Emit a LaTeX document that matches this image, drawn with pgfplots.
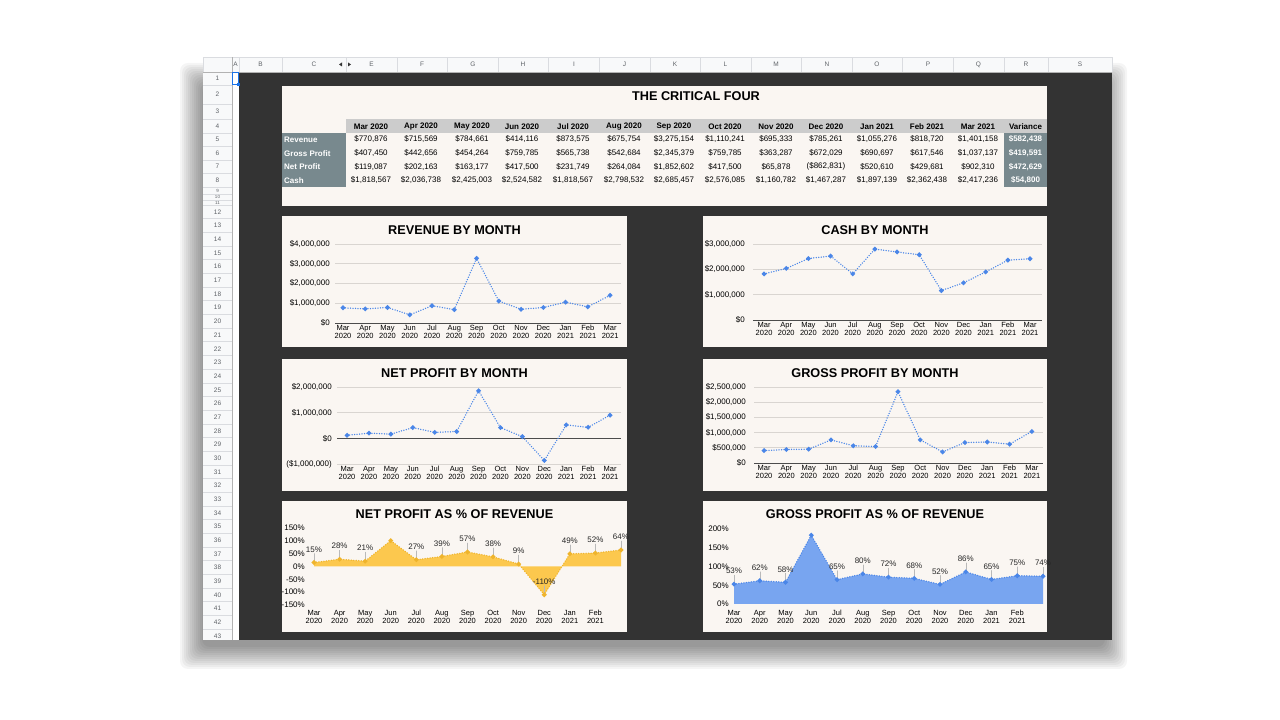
\documentclass[border=0pt]{standalone}
\usepackage{pgfplots}
\pgfplotsset{compat=1.18}
\usepackage{pgfplotstable}
\usepackage{fontspec}
\setmainfont{Liberation Sans}

\definecolor{sheetdark}{HTML}{333333}
\definecolor{cream}{HTML}{FAF6F2}
\definecolor{hdrgray}{HTML}{CCCCCC}
\definecolor{slate}{HTML}{78898E}
\definecolor{gridc}{HTML}{D9D5D1}
\definecolor{gblue}{HTML}{4A86E8}
\definecolor{yfill}{HTML}{FCC84E}
\definecolor{yline}{HTML}{EFB42C}
\definecolor{bfill}{HTML}{78A5F0}
\definecolor{bline}{HTML}{4A86E8}
\definecolor{shhdr}{HTML}{F8F9FA}
\definecolor{shline}{HTML}{DADCE0}
\definecolor{shtext}{HTML}{5F6368}
\definecolor{selblue}{HTML}{1A73E8}

\newcommand\fs[1]{\fontsize{#1}{#1}\selectfont}

% monthly figures
\pgfplotstableread{
x rev gp np cash
0 770876 407450 119087 1818567
1 715569 442656 202163 2036738
2 784661 454264 163177 2425003
3 414116 759785 417500 2524582
4 873575 565738 231749 1818567
5 675754 542684 264084 2798532
6 3275154 2345379 1852602 2685457
7 1110241 759785 417500 2576085
8 695333 363287 65878 1160782
9 785261 672029 -862831 1467287
10 1055276 690697 520610 1897139
11 818720 617546 429681 2362438
12 1401158 1037137 902310 2417236
}\fin

% net profit as % of revenue
\pgfplotstableread{
x y lab err
0 15.4 15\% 35
1 28.3 28\% 35
2 20.8 21\% 35
3 100.8 {} 0
4 26.5 27\% 35
5 39.1 39\% 35
6 56.6 57\% 35
7 37.6 38\% 35
8 9.5 9\% 35
9 -109.9 -110\% 35
10 49.3 49\% 35
11 52.5 52\% 35
12 64.4 64\% 35
}\netpct

% gross profit as % of revenue
\pgfplotstableread{
x y lab err
0 52.9 53\% 24
1 61.9 62\% 24
2 57.9 58\% 24
3 183.5 {} 0
4 64.8 65\% 24
5 80.3 80\% 24
6 71.6 72\% 24
7 68.4 68\% 24
8 52.2 52\% 24
9 85.6 86\% 24
10 65.5 65\% 24
11 75.4 75\% 24
12 74.0 74\% 24
}\grosspct

\pgfplotsset{
  monthticks/.style={xtick={0,...,12},
    xticklabels={{Mar\\2020},{Apr\\2020},{May\\2020},{Jun\\2020},{Jul\\2020},{Aug\\2020},{Sep\\2020},{Oct\\2020},{Nov\\2020},{Dec\\2020},{Jan\\2021},{Feb\\2021},{Mar\\2021}}},
  dashpanel/.style={scale only axis, clip=false, anchor=south west,
    axis line style={draw=none}, major tick length=0pt, tick style={draw=none},
    scaled y ticks=false,
    ymajorgrids, grid style={gridc, line width=0.7pt},
    xticklabel style={font=\fontsize{7.5}{7.8}\selectfont, align=center, inner sep=0pt,
      execute at begin node=\strut, anchor=north, yshift=-2pt},
    yticklabel style={font=\fs{8}, inner sep=0pt, anchor=east, xshift=-5pt},
    monthticks},
  zeroline/.style={extra y ticks={0}, extra y tick labels={},
    extra y tick style={grid=major, major grid style={black!70, line width=0.8pt}}},
  dline/.style={color=#1, line width=1.5pt, line cap=round, dash pattern=on 0pt off 2.5pt,
    mark=*, mark size=1.5pt, mark options={solid, fill=#1, draw=none}},
  dline/.default=gblue,
  pctlabels/.style={nodes near coords, point meta=explicit symbolic,
    every node near coord/.append style={font=\fs{8}, text=black!85, anchor=center, yshift=13pt, inner sep=0pt}},
}

\begin{document}
\begin{tikzpicture}[x=1pt,y=1pt]
% page
\fill[white] (0,0) rectangle (1280,720);
% soft drop shadow
\foreach \k in {0,...,11}
  \fill[black, opacity=0.04, rounded corners=8pt] (180+2*\k,51+2*\k) rectangle (1127-2*\k,657-2*\k);

% sheet
\fill[white] (203,80) rectangle (1112,663);
\fill[shhdr] (203,648) rectangle (1112,663);
\fill[shhdr] (203,80) rectangle (232,648);
\fill[sheetdark] (239,80) rectangle (1112,648);
\foreach \cx in {203,232,239,282,346,397,447.5,498,548.5,599,650,700,751,801.5,852,902.5,953,1004,1048,1112}
  \draw[shline, line width=0.6pt] (\cx,648) -- (\cx,663);
\draw[shline, line width=0.6pt] (203,663) -- (1112,663);
\draw[gray!60, line width=0.8pt] (203,648) -- (1112,648);
\draw[gray!60, line width=0.8pt] (232,80) -- (232,663);
\foreach \cx/\t in {235.5/A,260.5/B,314/C,371.5/E,422/F,473/G,523/H,574/I,624.5/J,675/K,725.5/L,776/M,827/N,877/O,928/P,978.5/Q,1026/R,1080/S}
  \node[font=\fs{6.5}, text=shtext] at (\cx,655.5) {\t};
\fill[black!80] (342,657.5) -- (339,655.5) -- (342,653.5) -- cycle;
\fill[black!80] (348,657.5) -- (351,655.5) -- (348,653.5) -- cycle;
% row header
\foreach \py in {85,104,119,133,146,160,173,187,194,200,205}
  \draw[shline, line width=0.6pt] (203,720-\py) -- (232,720-\py);
\foreach \k in {1,...,31}
  \draw[shline, line width=0.6pt] (203,720-205-13.68*\k) -- (232,720-205-13.68*\k);
\foreach \r/\py in {1/78.5,2/94.5,3/111.5,4/126,5/139.5,6/153,7/166.5,8/180}
  \node[font=\fs{6.5}, text=shtext] at (217.5,720-\py) {\r};
\foreach \r/\py in {9/190.5,10/197,11/202.5}
  \node[font=\fs{4.5}, text=shtext] at (217.5,720-\py) {\r};
\foreach \r in {12,...,43}
  \node[font=\fs{6.5}, text=shtext] at (217.5,720-212-13.68*\r+13.68*12) {\r};
% selected cell A1
\draw[selblue, line width=1.2pt] (232.6,647.4) rectangle (238.4,635.2);
\fill[selblue] (236.5,633.5) rectangle (240,637);

% panels
\fill[cream] (282,514) rectangle (1047,634);
\fill[cream] (282,373) rectangle (627,504);
\fill[cream] (703,373) rectangle (1047,504);
\fill[cream] (282,229) rectangle (627,361);
\fill[cream] (703,229) rectangle (1047,361);
\fill[cream] (282,88) rectangle (627,219);
\fill[cream] (703,88) rectangle (1047,219);

% the critical four table
\node[font=\fs{12.7}\bfseries] at (696,624) {THE CRITICAL FOUR};
\fill[hdrgray] (346,587) rectangle (1047,601);
\fill[slate] (282,533) rectangle (346,587);
\fill[slate] (1004,533) rectangle (1047,587);
\foreach \cx/\t in {371/Mar 2020,421/Apr 2020,472/May 2020,522/Jun 2020,573/Jul 2020,624/Aug 2020,674/Sep 2020,725/Oct 2020,776/Nov 2020,826/Dec 2020,877/Jan 2021,927/Feb 2021,978/Mar 2021,1025.5/Variance}
  \node[font=\fs{8}\bfseries] at (\cx,720-126.5) {\t};
\foreach \py/\t in {139.5/Revenue,153.3/Gross Profit,166.8/Net Profit,180.2/Cash}
  \node[font=\fs{8}\bfseries, text=white, anchor=west, inner sep=0pt] at (284,720-\py) {\t};
\foreach \cx/\v in {371/{\$770,876},421/{\$715,569},472/{\$784,661},522/{\$414,116},573/{\$873,575},624/{\$675,754},674/{\$3,275,154},725/{\$1,110,241},776/{\$695,333},826/{\$785,261},877/{\$1,055,276},927/{\$818,720},978/{\$1,401,158}}
  \node[font=\fs{8}] at (\cx,720-139.5) {\v};
\foreach \cx/\v in {371/{\$407,450},421/{\$442,656},472/{\$454,264},522/{\$759,785},573/{\$565,738},624/{\$542,684},674/{\$2,345,379},725/{\$759,785},776/{\$363,287},826/{\$672,029},877/{\$690,697},927/{\$617,546},978/{\$1,037,137}}
  \node[font=\fs{8}] at (\cx,720-153.3) {\v};
\foreach \cx/\v in {371/{\$119,087},421/{\$202,163},472/{\$163,177},522/{\$417,500},573/{\$231,749},624/{\$264,084},674/{\$1,852,602},725/{\$417,500},776/{\$65,878},826/{(\$862,831)},877/{\$520,610},927/{\$429,681},978/{\$902,310}}
  \node[font=\fs{8}] at (\cx,720-166.8) {\v};
\foreach \cx/\v in {371/{\$1,818,567},421/{\$2,036,738},472/{\$2,425,003},522/{\$2,524,582},573/{\$1,818,567},624/{\$2,798,532},674/{\$2,685,457},725/{\$2,576,085},776/{\$1,160,782},826/{\$1,467,287},877/{\$1,897,139},927/{\$2,362,438},978/{\$2,417,236}}
  \node[font=\fs{8}] at (\cx,720-180.2) {\v};
\foreach \py/\v in {139.5/{\$582,438},153.3/{\$419,591},166.8/{\$472,629},180.2/{\$54,800}}
  \node[font=\fs{8}\bfseries, text=white] at (1025.5,720-\py) {\v};

% chart titles
\node[font=\fs{12.7}\bfseries] at (454.5,490) {REVENUE BY MONTH};
\node[font=\fs{12.7}\bfseries] at (875,490) {CASH BY MONTH};
\node[font=\fs{12.7}\bfseries] at (454.5,347) {NET PROFIT BY MONTH};
\node[font=\fs{12.7}\bfseries] at (875,347) {GROSS PROFIT BY MONTH};
\node[font=\fs{12.7}\bfseries] at (454.5,206) {NET PROFIT AS \% OF REVENUE};
\node[font=\fs{12.7}\bfseries] at (875,206) {GROSS PROFIT AS \% OF REVENUE};

% revenue by month
\begin{axis}[dashpanel, zeroline, at={(335pt,397pt)}, width=286pt, height=79pt,
  xmin=-0.36, xmax=12.49, ymin=0, ymax=4000000,
  ytick={0,1000000,2000000,3000000,4000000},
  yticklabels={{\$0},{\$1,000,000},{\$2,000,000},{\$3,000,000},{\$4,000,000}}]
\addplot[dline] table[x=x,y=rev]{\fin};
\end{axis}

% cash by month
\begin{axis}[dashpanel, zeroline, at={(753pt,400pt)}, width=289pt, height=76pt,
  xmin=-0.5, xmax=12.54, ymin=0, ymax=3000000,
  ytick={0,1000000,2000000,3000000},
  yticklabels={{\$0},{\$1,000,000},{\$2,000,000},{\$3,000,000}},
  yticklabel style={xshift=-3pt}]
\addplot[dline] table[x=x,y=cash]{\fin};
\end{axis}

% net profit by month
\begin{axis}[dashpanel, zeroline, at={(337pt,256pt)}, width=284pt, height=77pt,
  xmin=-0.46, xmax=12.5, ymin=-1000000, ymax=2000000,
  ytick={-1000000,0,1000000,2000000},
  yticklabels={{(\$1,000,000)},{\$0},{\$1,000,000},{\$2,000,000}}]
\addplot[dline] table[x=x,y=np]{\fin};
\end{axis}

% gross profit by month
\begin{axis}[dashpanel, zeroline, at={(754pt,257pt)}, width=289pt, height=76pt,
  xmin=-0.45, xmax=12.5, ymin=0, ymax=2500000,
  ytick={0,500000,1000000,1500000,2000000,2500000},
  yticklabels={{\$0},{\$500,000},{\$1,000,000},{\$1,500,000},{\$2,000,000},{\$2,500,000}},
  yticklabel style={xshift=-3pt}]
\addplot[dline] table[x=x,y=gp]{\fin};
\end{axis}

% net profit as % of revenue
\begin{axis}[dashpanel, ymajorgrids=false, at={(314pt,115pt)}, width=307pt, height=77pt,
  xmin=0, xmax=12, ymin=-150, ymax=150, xtick={0,...,11},
  ytick={-150,-100,-50,0,50,100,150},
  yticklabels={{-150\%},{-100\%},{-50\%},{0\%},{50\%},{100\%},{150\%}},
  xticklabel style={yshift=-3pt}, yticklabel style={xshift=-4pt}]
\addplot[fill=yfill, draw=none] table[x=x,y=y]{\netpct} \closedcycle;
\addplot[dline=yline, pctlabels,
  error bars/.cd, y dir=plus, y explicit, error mark=none,
  error bar style={gray!55, line width=0.4pt, solid}]
  table[x=x, y=y, y error=err, meta=lab]{\netpct};
\end{axis}

% gross profit as % of revenue
\begin{axis}[dashpanel, ymajorgrids=false, at={(734pt,116pt)}, width=309pt, height=75pt,
  xmin=0, xmax=12, ymin=0, ymax=200, xtick={0,...,11},
  ytick={0,50,100,150,200},
  yticklabels={{0\%},{50\%},{100\%},{150\%},{200\%}},
  xticklabel style={yshift=-4pt}]
\addplot[fill=bfill, draw=none] table[x=x,y=y]{\grosspct} \closedcycle;
\addplot[dline=bline, pctlabels,
  error bars/.cd, y dir=plus, y explicit, error mark=none,
  error bar style={gray!55, line width=0.4pt, solid}]
  table[x=x, y=y, y error=err, meta=lab]{\grosspct};
\end{axis}

\pgfresetboundingbox
\useasboundingbox (0,0) rectangle (1280,720);
\end{tikzpicture}
\end{document}
